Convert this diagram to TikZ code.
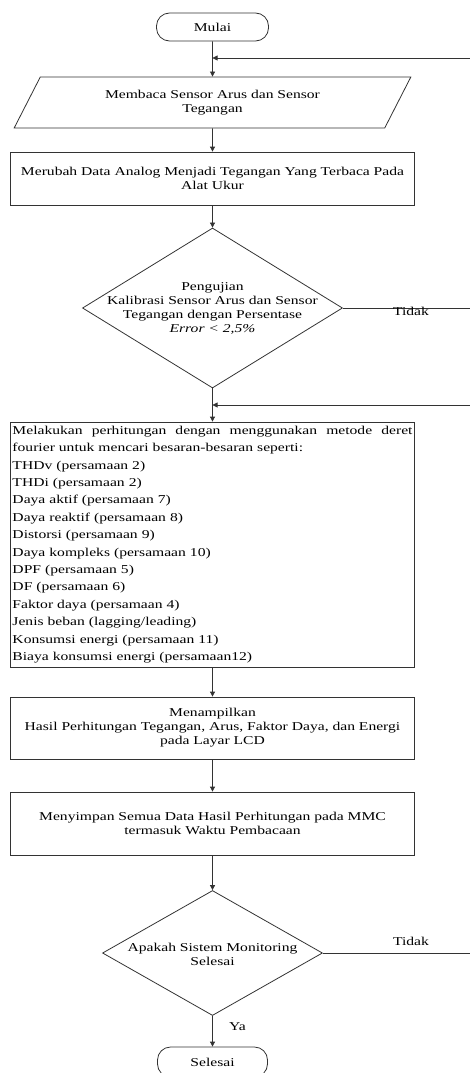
\documentclass[tikz,border=0pt]{standalone}
\usepackage{fontspec}
\setmainfont{Liberation Serif}[FakeStretch=1.3]
\usetikzlibrary{shapes.geometric,arrows.meta}

\begin{document}
\begin{tikzpicture}[x=1pt, y=-1pt,
    font=\fontsize{12}{14}\selectfont,
    line/.style={draw=black!80, line width=0.8pt},
    arrow/.style={line, -{Triangle[length=5pt,width=5pt]}},
    terminal/.style={line, rounded corners=13pt, minimum width=112pt, minimum height=28pt},
    process/.style={line, align=center, minimum width=404pt},
    decision/.style={line, diamond, inner sep=0pt}]
    \useasboundingbox (0,0) rectangle (470,1073);

    % Steps
    \node[terminal] (mulai) at (212.5,27) {Mulai};
    \node[line, trapezium, trapezium left angle=62, trapezium right angle=118,
          trapezium stretches=true, minimum width=398pt, minimum height=51pt,
          align=center] (baca) at (212.5,102.5) {Membaca Sensor Arus dan Sensor\\Tegangan};
    \node[process, minimum height=53pt] (ubah) at (212.5,178.5)
        {Merubah Data Analog Menjadi Tegangan Yang Terbaca Pada\\Alat Ukur};

    \node[decision, minimum width=260pt, minimum height=160pt] (uji) at (212.5,308) {};
    \node[align=center] (ujiteks) at (uji.center)
        {Pengujian\\Kalibrasi Sensor Arus dan Sensor\\Tegangan dengan Persentase\\\textit{Error < 2,5\%}};

    \node[line, minimum height=245pt, text width=400pt, inner sep=2pt,
          font=\fontsize{12}{17.4}\selectfont]
        (hitung) at (212.5,544.5)
        {\hbox to 400pt{Melakukan\hfill perhitungan\hfill dengan\hfill menggunakan\hfill metode\hfill deret}\\
         fourier untuk mencari besaran-besaran seperti:\\
         THDv (persamaan 2)\\
         THDi (persamaan 2)\\
         Daya aktif (persamaan 7)\\
         Daya reaktif (persamaan 8)\\
         Distorsi (persamaan 9)\\
         Daya kompleks (persamaan 10)\\
         DPF (persamaan 5)\\
         DF (persamaan 6)\\
         Faktor daya (persamaan 4)\\
         Jenis beban (lagging/leading)\\
         Konsumsi energi (persamaan 11)\\
         Biaya konsumsi energi (persamaan12)};

    \node[process, minimum height=62pt] (tampil) at (212.5,728)
        {Menampilkan\\Hasil Perhitungan Tegangan, Arus, Faktor Daya, dan Energi\\pada Layar LCD};
    \node[process, minimum height=63pt] (simpan) at (212.5,823.5)
        {Menyimpan Semua Data Hasil Perhitungan pada MMC\\termasuk Waktu Pembacaan};

    \node[decision, minimum width=220pt, minimum height=125pt] (cek) at (212.5,953) {};
    \node[align=center] (cekteks) at (212.5,954.5) {Apakah Sistem Monitoring\\Selesai};
    \node[terminal, minimum width=110pt, minimum height=30pt] (selesai) at (212.5,1062) {Selesai};

    % Arrows
    \draw[arrow] (mulai) -- (baca);
    \draw[arrow] (baca) -- (ubah);
    \draw[arrow] (ubah) -- (uji);
    \draw[arrow] (uji) -- (hitung);
    \draw[arrow] (hitung) -- (tampil);
    \draw[arrow] (tampil) -- (simpan);
    \draw[arrow] (simpan) -- (cek);
    \draw[arrow] (cek) -- (selesai);
    \node[anchor=base] (ya) at (237.5,1030) {Ya};

    % Loops back
    \coordinate (ulang1) at (470,58);
    \coordinate (ulang2) at (470,405);
    \draw[arrow] (ulang1) -- (ulang1 -| mulai);
    \draw[arrow] (ulang2) -- (ulang2 -| uji);
    \draw[line] (uji.east) -- (uji.east -| ulang2);
    \node[anchor=base] (tidak1) at (411,315) {Tidak};
    \draw[line] (cek.east) -- (cek.east -| ulang2);
    \node[anchor=base] (tidak2) at (411,945) {Tidak};
\end{tikzpicture}
\end{document}
